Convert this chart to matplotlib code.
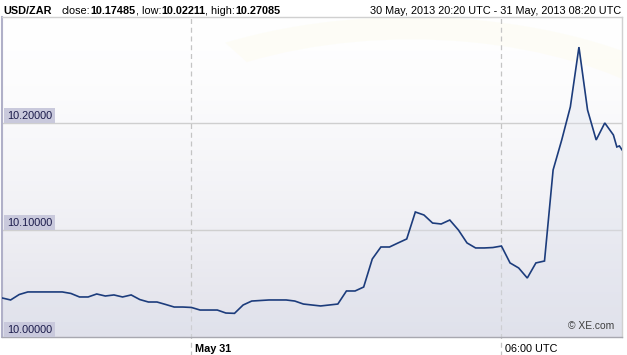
import matplotlib
matplotlib.use("Agg")
import matplotlib.pyplot as plt
import matplotlib.transforms as mtransforms
from matplotlib.patches import Wedge
import numpy as np

# ---------------- data ----------------
pair = "USD/ZAR"
close_val = "10.17485"
low_val = "10.02211"
high_val = "10.27085"
range_label = "30 May, 2013 20:20 UTC - 31 May, 2013 08:20 UTC"

times = ["20:20", "20:30", "20:40", "20:50", "21:00", "21:10", "21:20", "21:30",
         "21:40", "21:50", "22:00", "22:10", "22:20", "22:30", "22:40", "22:50",
         "23:00", "23:10", "23:20", "23:30", "23:40", "23:50", "00:00", "00:10",
         "00:20", "00:30", "00:40", "00:50", "01:00", "01:10", "01:20", "01:30",
         "01:40", "01:50", "02:00", "02:10", "02:20", "02:30", "02:40", "02:50",
         "03:00", "03:10", "03:20", "03:30", "03:40", "03:50", "04:00", "04:10",
         "04:20", "04:30", "04:40", "04:50", "05:00", "05:10", "05:20", "05:30",
         "05:40", "05:50", "06:00", "06:10", "06:20", "06:30", "06:40", "06:50",
         "07:00", "07:10", "07:20", "07:30", "07:40", "07:50", "08:00", "08:10",
         "08:14", "08:17", "08:20"]

rates = [10.0365, 10.0346, 10.0397, 10.0421, 10.0421, 10.0421, 10.0421, 10.0421,
         10.0407, 10.0374, 10.0374, 10.0402, 10.0383, 10.0393, 10.0374, 10.0393,
         10.0350, 10.0327, 10.0327, 10.0304, 10.0280, 10.0280, 10.0276, 10.0252,
         10.0252, 10.0252, 10.0224, 10.0221, 10.0299, 10.0336, 10.0341, 10.0346,
         10.0346, 10.0346, 10.0336, 10.0308, 10.0299, 10.0290, 10.0299, 10.0308,
         10.0430, 10.0430, 10.0467, 10.0729, 10.0841, 10.0841, 10.0879, 10.0916,
         10.1168, 10.1140, 10.1065, 10.1056, 10.1093, 10.1000, 10.0879, 10.0832,
         10.0832, 10.0836, 10.0850, 10.0692, 10.0645, 10.0551, 10.0692, 10.0710,
         10.1561, 10.1841, 10.2150, 10.2709, 10.2121, 10.1841, 10.2000, 10.1888,
         10.1776, 10.1785, 10.1749]

ytick_vals = [10.0, 10.1, 10.2]
ytick_labels = ["10.00000", "10.10000", "10.20000"]
xtick_times = ["00:00", "06:00"]
xtick_labels = ["May 31", "06:00 UTC"]
xtick_weights = ["bold", "normal"]
start_time = "20:20"
end_time = "08:20"


def to_minutes(hhmm):
    h, m = map(int, hhmm.split(":"))
    sh, sm = map(int, start_time.split(":"))
    d = (h * 60 + m) - (sh * 60 + sm)
    if d < 0:
        d += 24 * 60
    return d


x = np.array([to_minutes(t) for t in times], dtype=float)
y = np.array(rates)

# ---------------- figure ----------------
W, H = 627, 355
fig = plt.figure(figsize=(W / 100, H / 100), dpi=100)
fig.patch.set_facecolor("white")
FONT = "Liberation Sans"

ax_l, ax_r, ax_t, ax_b = 2, 622, 17, 337
ax = fig.add_axes([ax_l / W, (H - ax_b) / H, (ax_r - ax_l) / W, (ax_b - ax_t) / H])
ax.set_xlim(0, to_minutes(end_time))
ax.set_ylim(10.0, 10.299)

# gradient background
grad = np.linspace(0, 1, 256).reshape(-1, 1)
top = np.array([1.0, 1.0, 1.0])
bot = np.array([225, 225, 234]) / 255.0
g = grad ** 1.5
img = top[None, None, :] * (1 - g[..., None]) + bot[None, None, :] * g[..., None]
ax.imshow(img, extent=[0, 1, 0, 1], transform=ax.transAxes, aspect="auto",
          zorder=0, origin="upper")

# very faint watermark ring (upper-right arc only)
ring = Wedge((0.66, 0.40), 0.60, -40, 120, width=0.07, transform=ax.transAxes,
             facecolor="#fdfbe8", edgecolor="none", alpha=0.35, zorder=0.5)
ax.add_patch(ring)

# grid lines
for v in ytick_vals[1:]:
    ax.axhline(v, color="#cfcfcf", lw=1.0, zorder=1)

for t in xtick_times:
    ax.axvline(to_minutes(t), ymin=-0.058, ymax=1, color="#c4c4c4", lw=0.9,
               ls=(0, (4, 3)), clip_on=False, zorder=1)

# fill and line
ax.fill_between(x, y, 10.0, color="#dfe3ee", alpha=0.35, zorder=2, lw=0)
ax.plot(x, y, color="#1c3c7c", lw=1.2, zorder=3, solid_joinstyle="miter")

# y labels inside plot
for v, lab in zip(ytick_vals, ytick_labels):
    ax.annotate(lab, xy=(0, v), xycoords=("axes fraction", "data"),
                xytext=(3.5, 1.6), textcoords="offset points",
                fontsize=7.8, family=FONT, color="#1a1a4a", va="bottom", ha="left",
                bbox=dict(boxstyle="square,pad=0.25", fc="#c9c9dc", ec="none"),
                zorder=5)

# x labels
trans = mtransforms.blended_transform_factory(ax.transData, ax.transAxes)
for t, lab, wgt in zip(xtick_times, xtick_labels, xtick_weights):
    ax.annotate(lab, xy=(to_minutes(t), 0), xycoords=trans, xytext=(2.5, -8.5),
                textcoords="offset points", fontsize=7.8, family=FONT,
                weight=wgt, color="black", va="center", ha="left",
                annotation_clip=False)

# copyright
fig.text(614 / W, (H - 326) / H, "\u00a9 XE.com", fontsize=7.4, family=FONT,
         color="#404040", ha="right", va="center")

ax.set_xticks([])
ax.set_yticks([])
for s in ["top", "right"]:
    ax.spines[s].set_color("#d0d0d0")
    ax.spines[s].set_linewidth(1.0)
ax.spines["bottom"].set_color("#a8a8b0")
ax.spines["bottom"].set_linewidth(1.0)
ax.spines["left"].set_color("#b0b0c8")
ax.spines["left"].set_linewidth(1.5)

# header
renderer = fig.canvas.get_renderer()
hy = 1 - 10.5 / H


def put(xpx, text, weight):
    t = fig.text(xpx / W, hy, text, fontsize=7.8, family=FONT, weight=weight,
                 color="black", va="center", ha="left")
    bb = t.get_window_extent(renderer)
    return bb.x1


put(3, pair, "bold")
xp = 62
for txt, wgt in [("close:", "normal"), (close_val, "bold"), (", low:", "normal"),
                 (low_val, "bold"), (", high:", "normal"), (high_val, "bold")]:
    xp = put(xp, txt, wgt)

fig.text(621 / W, hy, range_label, fontsize=7.8, family=FONT, color="black",
         va="center", ha="right")

fig.savefig("out.png", dpi=100)
